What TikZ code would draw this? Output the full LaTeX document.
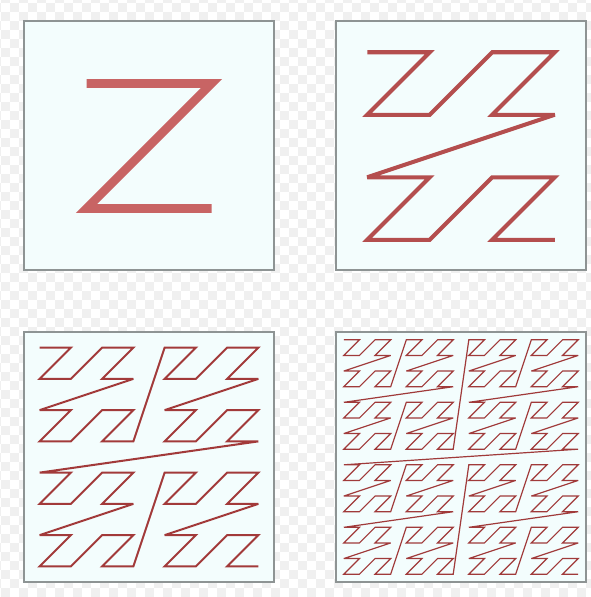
\documentclass[tikz,border=0pt]{standalone}
\usepackage{tikz}
\definecolor{CheckGray}{HTML}{F0F0F0}
\definecolor{PanelMist}{HTML}{F3FDFD}
\definecolor{PanelEdge}{HTML}{8E9494}
\definecolor{ZRedA}{HTML}{C86464}
\definecolor{ZRedB}{HTML}{B44E4E}
\definecolor{ZRedC}{HTML}{A23A3A}
\definecolor{ZRedD}{HTML}{A03A3A}

% one Z-order curve of n x n cells in a 250 px panel at (#2,#3)
\newcommand{\zcurve}[4]{%
  \pgfmathtruncatemacro{\zlast}{#1*#1-1}
  \draw[zline, #4] plot[variable=\k, samples at={0,...,\zlast}]
    ({#2+250/#1*(zx(\k)+0.5)}, {#3+250/#1*(zy(\k)+0.5)});
}

\begin{document}
\begin{tikzpicture}[
  x=0.01cm, y=-0.01cm,
  panel/.style={fill=PanelMist, draw=PanelEdge, line width=0.012cm},
  zline/.style={line join=miter, miter limit=4, line cap=butt},
  declare function={
    zx(\k)=mod(\k,2)+2*mod(floor(\k/4),2)+4*mod(floor(\k/16),2)+8*mod(floor(\k/64),2);
    zy(\k)=mod(floor(\k/2),2)+2*mod(floor(\k/8),2)+4*mod(floor(\k/32),2)+8*mod(floor(\k/128),2);
  }
]
\useasboundingbox (0,0) rectangle (590,597);
\fill[white] (0,0) rectangle (590,597);
\foreach \i in {-1,...,65} {
  \foreach \j in {-1,...,66} {
    \pgfmathtruncatemacro{\odd}{mod(\i+\j+2,2)}
    \ifnum\odd=1
      \fill[CheckGray] ({1+9*\i},{3+9*\j}) rectangle ++(9,9);
    \fi
  }
}

\draw[panel] (24,21) rectangle (274,270);
\draw[panel] (336,21) rectangle (586,270);
\draw[panel] (24,332) rectangle (274,582);
\draw[panel] (336,332) rectangle (586,582);

\zcurve{2}{24}{21}{draw=ZRedA, line width=0.088cm}
\zcurve{4}{336}{21}{draw=ZRedB, line width=0.04cm}
\zcurve{8}{24}{332}{draw=ZRedC, line width=0.02cm}
\zcurve{16}{336}{332}{draw=ZRedD, line width=0.012cm}
\end{tikzpicture}
\end{document}
